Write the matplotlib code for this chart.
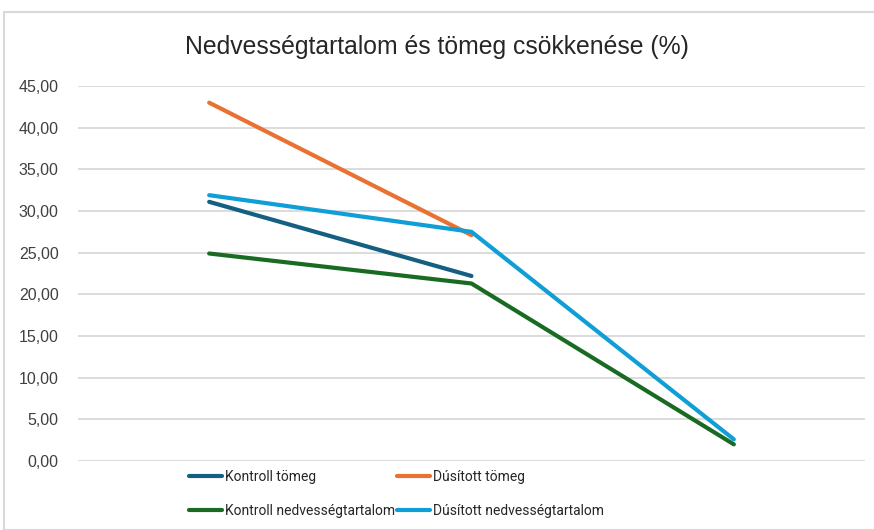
import numpy as np
import matplotlib
matplotlib.use("Agg")
from matplotlib import pyplot as plt
from matplotlib.patches import Rectangle

# data
categories = [1, 2, 3]
kontroll_tomeg = [31.1, 22.2, np.nan]
dusitott_tomeg = [43.0, 27.1, np.nan]
kontroll_nedv = [24.9, 21.3, 2.0]
dusitott_nedv = [31.9, 27.5, 2.6]
yticks = np.arange(0, 50, 5)

plt.rcParams['font.family'] = ['Liberation Sans', 'DejaVu Sans']

fig = plt.figure(figsize=(8.74, 5.30), dpi=100)
fig.patches.append(Rectangle((4/874, 0), 1, 1 - 12/530, transform=fig.transFigure,
                             fill=False, edgecolor='#d9d9d9', lw=1.5))

ax = fig.add_axes([78/874, 1 - 461/530, 787/874, 375/530])
x = np.arange(len(categories))

l1, = ax.plot(x, kontroll_tomeg, color='#156082', lw=3, solid_capstyle='round', label='Kontroll tömeg')
l2, = ax.plot(x, dusitott_tomeg, color='#E97132', lw=3, solid_capstyle='round', label='Dúsított tömeg')
l3, = ax.plot(x, kontroll_nedv, color='#196B24', lw=3, solid_capstyle='round', label='Kontroll nedvességtartalom')
l4, = ax.plot(x, dusitott_nedv, color='#0F9ED5', lw=3, solid_capstyle='round', label='Dúsított nedvességtartalom')

ax.set_xlim(-0.5, 2.5)
ax.set_ylim(0, 45)
ax.set_yticks(yticks)
ax.set_yticklabels([f"{v:.2f}".replace('.', ',') for v in yticks],
                   fontsize=11.5, color='#404040')
ax.set_xticks([])
ax.grid(axis='y', color='#d9d9d9', lw=1.3)
ax.set_axisbelow(True)
ax.tick_params(axis='y', length=0, pad=14)
for s in ax.spines.values():
    s.set_visible(False)

fig.text(0.5, 1 - 47/530, 'Nedvességtartalom és tömeg csökkenése (%)',
         ha='center', va='center', fontsize=17.8, color='#262626')

# column-major fill, so rows read: Kontroll/Dúsított tömeg, then nedvességtartalom
handles = [l1, l3, l2, l4]
leg = fig.legend(handles, [h.get_label() for h in handles],
                 loc='upper left', bbox_to_anchor=(176/874, 1 - 457/530), ncol=2,
                 frameon=False, prop={'family': 'Roboto', 'size': 10},
                 handlelength=2.4, handletextpad=0.2,
                 columnspacing=0.15, labelspacing=1.45)
for t in leg.get_texts():
    t.set_color('#262626')

fig.savefig('out.png', dpi=100)
